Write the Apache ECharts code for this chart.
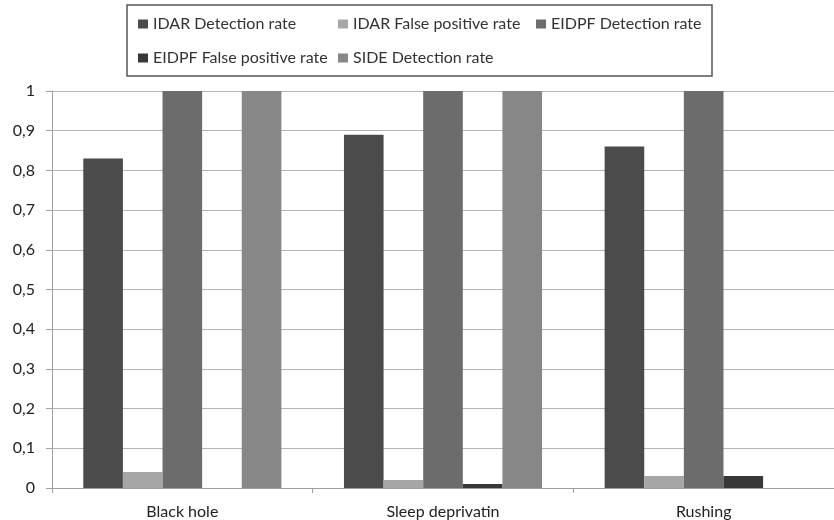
<!DOCTYPE html>
<html>
<head>
<meta charset="utf-8">
<script src="https://cdn.jsdelivr.net/npm/echarts@6/dist/echarts.min.js"></script>
<style>
  html, body { margin: 0; padding: 0; background: #fff; }
  #chart { width: 834px; height: 520px; }
</style>
</head>
<body>
<div id="chart"></div>
<script>
// Attack scenarios on the x axis
const categories = ['Black hole', 'Sleep deprivatin', 'Rushing'];

// Rates per scenario (null = not measured)
const idarDetection = [0.83, 0.89, 0.86];
const idarFalsePositive = [0.04, 0.02, 0.03];
const eidpfDetection = [1, 1, 1];
const eidpfFalsePositive = [0, 0.01, 0.03];
const sideDetection = [1, 1, null];

// Y axis range and step
const yMin = 0, yMax = 1, yStep = 0.1;

const seriesDefs = [
  { name: 'IDAR Detection rate', data: idarDetection, color: '#4b4b4b' },
  { name: 'IDAR False positive rate', data: idarFalsePositive, color: '#a6a6a6' },
  { name: 'EIDPF Detection rate', data: eidpfDetection, color: '#6c6c6c' },
  { name: 'EIDPF False positive rate', data: eidpfFalsePositive, color: '#383838' },
  { name: 'SIDE Detection rate', data: sideDetection, color: '#878787' }
];

const font = 'Lato, "Open Sans", sans-serif';
const legendText = { fontFamily: font, fontSize: 16, color: '#333' };

// Legend entries laid out in two rows inside a framed box
const legendPos = [
  { left: 138, top: 16 },
  { left: 338, top: 16 },
  { left: 536, top: 16 },
  { left: 138, top: 50 },
  { left: 338, top: 50 }
];

const chart = echarts.init(document.getElementById('chart'));
chart.setOption({
  animation: false,
  backgroundColor: '#fff',
  graphic: [{
    type: 'rect',
    shape: { x: 127, y: 5, width: 585, height: 71 },
    style: { fill: 'none', stroke: '#555', lineWidth: 1.5 },
    z: 0
  }],
  legend: seriesDefs.map((s, i) => ({
    data: [s.name],
    left: legendPos[i].left,
    top: legendPos[i].top,
    padding: 0,
    itemWidth: 10,
    itemHeight: 9,
    itemGap: 0,
    textStyle: legendText,
    icon: 'rect'
  })),
  grid: { left: 52, top: 91, width: 795, height: 397, containLabel: false },
  xAxis: {
    type: 'category',
    data: categories,
    axisLine: { lineStyle: { color: '#a0a0a0', width: 1 } },
    axisTick: { show: true, length: 5, lineStyle: { color: '#a0a0a0' } },
    axisLabel: { fontFamily: font, fontSize: 16, color: '#222', margin: 16 }
  },
  yAxis: {
    type: 'value',
    min: yMin,
    max: yMax,
    interval: yStep,
    axisLine: { show: true, lineStyle: { color: '#a0a0a0', width: 1 } },
    axisTick: { show: true, length: 6, lineStyle: { color: '#a0a0a0' } },
    axisLabel: {
      fontFamily: font, fontSize: 16, color: '#222', margin: 17,
      formatter: v => String(Math.round(v * 10) / 10).replace('.', ',')
    },
    splitLine: { lineStyle: { color: '#b4b4b4', width: 1 } }
  },
  series: seriesDefs.map(s => ({
    name: s.name,
    type: 'bar',
    data: s.data,
    barGap: '0%',
    barCategoryGap: '24%',
    itemStyle: { color: s.color }
  }))
});
</script>
</body>
</html>
